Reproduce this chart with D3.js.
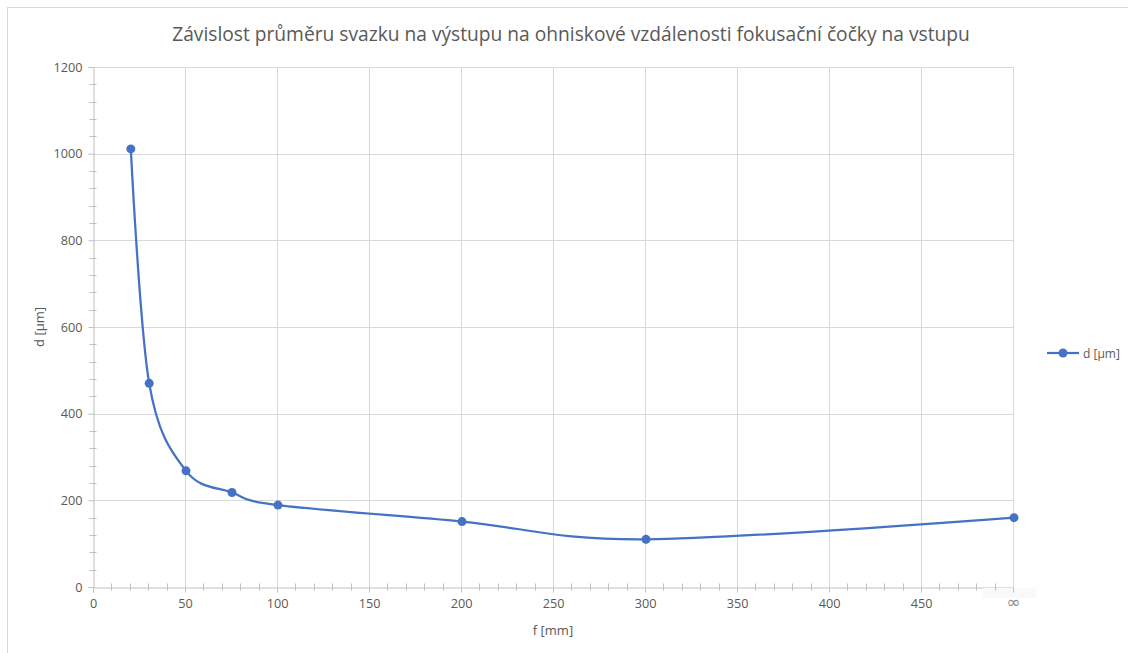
<!DOCTYPE html>
<html><head><meta charset="utf-8">
<script src="https://cdn.jsdelivr.net/npm/d3@7"></script>
<style>body{margin:0;background:#fff;}svg{display:block;font-family:"Open Sans","Noto Sans",sans-serif;}</style>
</head><body>
<svg id="c" width="1128" height="653"></svg>
<script>
const title = "Závislost průměru svazku na výstupu na ohniskové vzdálenosti fokusační čočky na vstupu";
const seriesName = "d [µm]";
const xLabel = "f [mm]";
const yLabel = "d [µm]";
const fValues = [20, 30, 50, 75, 100, 200, 300, 500];
const dValues = [1011, 470, 268, 218, 189, 151, 110, 160];
const xTicks = [0, 50, 100, 150, 200, 250, 300, 350, 400, 450, 500];
const xTickLabels = ["0","50","100","150","200","250","300","350","400","450","∞"];
const yTicks = [0, 200, 400, 600, 800, 1000, 1200];

const svg = d3.select("#c");
const grey = "#595959", grid = "#d9d9d9", axisC = "#bfbfbf", blue = "#4472C4";

// chart border
svg.append("rect").attr("x",7.5).attr("y",7.5).attr("width",1200).attr("height",700)
  .attr("fill","#fff").attr("stroke","#d9d9d9").attr("stroke-width",1);

const x = d3.scaleLinear().domain([0,500]).range([93,1013]);
const y = d3.scaleLinear().domain([0,1200]).range([587,67]);

// gridlines
svg.append("g").selectAll("line").data(xTicks.slice(1)).join("line")
  .attr("x1",d=>Math.round(x(d))+0.5).attr("x2",d=>Math.round(x(d))+0.5)
  .attr("y1",y(0)).attr("y2",y(1200)).attr("stroke",grid).attr("stroke-width",1);
svg.append("g").selectAll("line").data(yTicks.slice(1)).join("line")
  .attr("y1",d=>Math.round(y(d))+0.5).attr("y2",d=>Math.round(y(d))+0.5)
  .attr("x1",x(0)).attr("x2",x(500)).attr("stroke",grid).attr("stroke-width",1);

// axes
const xAxis = d3.axisBottom(x).tickValues(xTicks).tickSize(5).tickPadding(6)
  .tickFormat((d,i)=>xTickLabels[i]);
const gx = svg.append("g").attr("transform",`translate(0,${Math.round(y(0))+0.5})`).call(xAxis);
const yAxis = d3.axisLeft(y).tickValues(yTicks).tickSize(5).tickPadding(6).tickFormat(d3.format("d"));
const gy = svg.append("g").attr("transform",`translate(${Math.round(x(0))+0.5},0)`).call(yAxis);
[gx,gy].forEach(g=>{
  g.select(".domain").attr("stroke",axisC);
  g.selectAll(".tick line").attr("stroke",axisC);
  g.selectAll(".tick text").attr("fill",grey).attr("font-size",12.7)
   .attr("font-family","'Open Sans','Noto Sans',sans-serif");
});
// faint box behind infinity label
const inf = gx.selectAll(".tick").filter(d=>d===500);
inf.insert("rect","text")
  .attr("x",-31).attr("y",0.5).attr("width",54).attr("height",10).attr("fill","#f9f9f9");
inf.select("line").raise();
inf.select("text").attr("font-size",17).attr("font-family","'DejaVu Sans',sans-serif")
  .attr("dy","0.55em").attr("fill","#8a8a8a");

// minor ticks (cross)
const xMinor = d3.range(0,501,10).filter(v=>v%50!==0);
const yMinor = d3.range(0,1201,40).filter(v=>v%200!==0);
svg.append("g").selectAll("line").data(xMinor).join("line")
  .attr("x1",d=>Math.round(x(d))+0.5).attr("x2",d=>Math.round(x(d))+0.5)
  .attr("y1",y(0)-3.5).attr("y2",y(0)+3.5).attr("stroke",axisC);
svg.append("g").selectAll("line").data(yMinor).join("line")
  .attr("y1",d=>Math.round(y(d))+0.5).attr("y2",d=>Math.round(y(d))+0.5)
  .attr("x1",x(0)-3.5).attr("x2",x(0)+3.5).attr("stroke",axisC);

// axis titles
svg.append("text").attr("x",553).attr("y",635).attr("text-anchor","middle")
  .attr("fill",grey).attr("font-size",13).text(xLabel);
svg.append("text").attr("transform","translate(44,327) rotate(-90)").attr("text-anchor","middle")
  .attr("fill",grey).attr("font-size",13).text(yLabel);

// title
svg.append("text").attr("x",571).attr("y",41).attr("text-anchor","middle")
  .attr("fill",grey).attr("font-size",19.2).text(title);

// line
const data = fValues.map((f,i)=>({f, d:dValues[i]}));
const line = d3.line().x(d=>x(d.f)+1).y(d=>y(d.d)).curve(d3.curveCardinal.tension(0));
svg.append("path").datum(data).attr("d",line).attr("fill","none")
  .attr("stroke",blue).attr("stroke-width",2.25).attr("stroke-linejoin","round");
svg.append("g").selectAll("circle").data(data).join("circle")
  .attr("cx",d=>x(d.f)+1).attr("cy",d=>y(d.d)).attr("r",4.5).attr("fill",blue);

// legend
const lg = svg.append("g").attr("transform","translate(1047,353)");
lg.append("line").attr("x1",0).attr("x2",32).attr("stroke",blue).attr("stroke-width",2.25);
lg.append("circle").attr("cx",16).attr("r",4.5).attr("fill",blue);
lg.append("text").attr("x",36).attr("y",4.5).attr("fill",grey).attr("font-size",12).text(seriesName);
</script>
</body></html>
